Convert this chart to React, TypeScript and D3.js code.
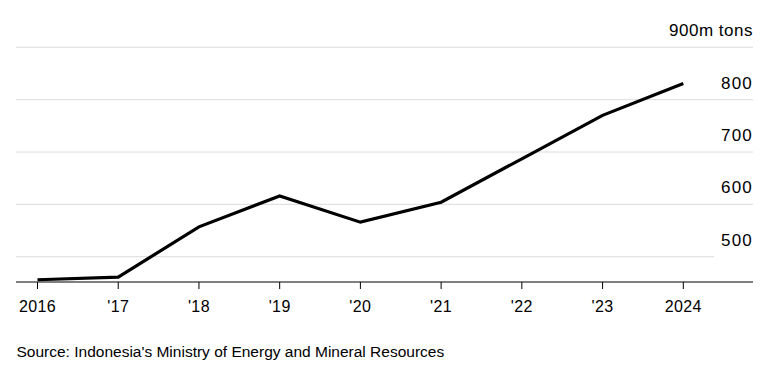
import React from "react";
import * as d3 from "d3";

const years = ["2016", "'17", "'18", "'19", "'20", "'21", "'22", "'23", "2024"];
const production = [456, 461, 557, 616, 566, 604, 687, 770, 831];
const yTicks = [500, 600, 700, 800, 900];
const unitLabel = "m tons";
const source = "Source: Indonesia's Ministry of Energy and Mineral Resources";

export default function App() {
  const W = 774, H = 381;
  const left = 16, right = 753;
  const x = d3.scalePoint<string>().domain(years).range([37.5, 683.3]);
  const y = d3.scaleLinear().domain([451.7, 900]).range([282, 47.3]);
  const line = d3.line<number>().x((_, i) => x(years[i])!).y((d) => y(d));
  const font = "'Liberation Sans', Arial, Helvetica, sans-serif";
  return (
    <svg width={W} height={H} style={{ position: "absolute", left: 0, top: 0, background: "#fff" }} fontFamily={font}>
      {yTicks.map((t) => (
        <g key={t}>
          <line x1={left} x2={t === 500 ? 714 : right} y1={y(t)} y2={y(t)} stroke="#dcdcdc" strokeWidth={1} />
          <text x={right} y={y(t) - 11} textAnchor="end" fontSize={17} letterSpacing={t === 900 ? 0.5 : 1.2} fill="#000">
            {t === 900 ? `${t}${unitLabel}` : t}
          </text>
        </g>
      ))}
      <line x1={left} x2={right} y1={282} y2={282} stroke="#000" strokeWidth={1.2} />
      {years.map((yr) => (
        <g key={yr}>
          <line x1={x(yr)} x2={x(yr)} y1={282} y2={289} stroke="#000" strokeWidth={1} />
          <text x={x(yr)} y={312} textAnchor="middle" fontSize={16} letterSpacing={0.4} fill="#000">{yr}</text>
        </g>
      ))}
      <path d={line(production)!} fill="none" stroke="#000" strokeWidth={3.2} strokeLinejoin="miter" />
      <text x={16.5} y={357} fontSize={15.5} fill="#000">{source}</text>
    </svg>
  );
}
